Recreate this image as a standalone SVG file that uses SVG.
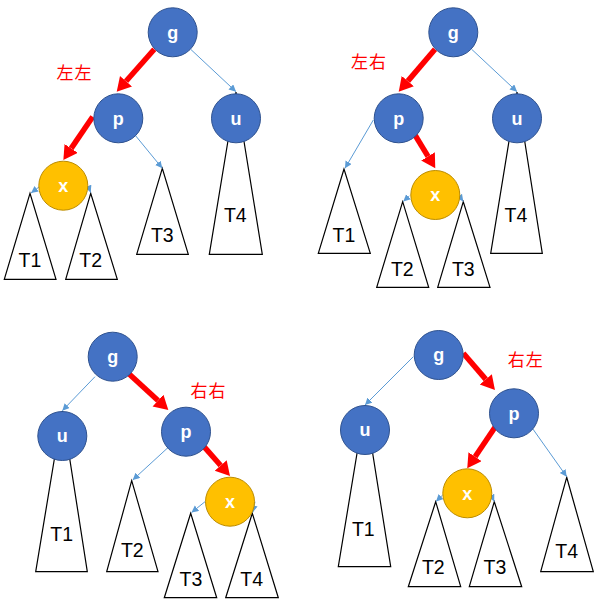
<svg xmlns="http://www.w3.org/2000/svg" width="599" height="604" viewBox="0 0 599 604">
<defs>
<marker id="bh" markerUnits="userSpaceOnUse" markerWidth="8" markerHeight="8" refX="7" refY="3.5" orient="auto"><path d="M0,0 L7,3.5 L0,7 z" fill="#5B9BD5"/></marker>
<marker id="rh" markerUnits="userSpaceOnUse" markerWidth="17" markerHeight="17" refX="0" refY="8" orient="auto"><path d="M0,0 L14,8 L0,16 z" fill="#FF0000"/></marker>
</defs>
<style>
.b{fill:#4472C4;stroke:#2F528F;stroke-width:1}
.o{fill:#FFC000;stroke:#BC8C00;stroke-width:1}
.nt{font-family:"Liberation Sans",Arial,sans-serif;font-size:18px;font-weight:bold;fill:#FFFFFF;text-anchor:middle}
.tr{fill:#FFFFFF;stroke:#000000;stroke-width:1.2}
.tt{font-family:"Liberation Sans",Arial,sans-serif;font-size:19.5px;fill:#000000;text-anchor:middle}
.lb{font-family:"Noto Sans CJK SC",sans-serif;font-size:17px;fill:#FF0000;text-anchor:middle;letter-spacing:1px}
.bl{fill:none;stroke:#5B9BD5;stroke-width:1;marker-end:url(#bh)}
.rl{fill:none;stroke:#FF0000;stroke-width:5.5;marker-end:url(#rh)}
</style>
<!-- Panel 1 -->
<g id="p1-T1"><polygon class="tr" points="30,193.3 4.3,279.3 56,279.3"/><text class="tt" x="30" y="267">T1</text></g>
<g id="p1-T2"><polygon class="tr" points="90.7,193.3 65.7,279.3 117.3,279.3"/><text class="tt" x="90.7" y="267">T2</text></g>
<g id="p1-T3"><polygon class="tr" points="162.3,168.3 136.7,254.3 188.3,254.3"/><text class="tt" x="162.3" y="242">T3</text></g>
<g id="p1-T4"><polygon class="tr" points="236,92 209.3,254.3 262.3,254.3"/><text class="tt" x="235.3" y="222">T4</text></g>
<!-- Panel 2 -->
<g id="p2-T1"><polygon class="tr" points="344,169 318.3,253.3 370.3,253.3"/><text class="tt" x="344" y="242">T1</text></g>
<g id="p2-T2"><polygon class="tr" points="402.7,201.7 376.7,287.3 428.7,287.3"/><text class="tt" x="402.3" y="275.5">T2</text></g>
<g id="p2-T3"><polygon class="tr" points="463.3,201.7 437.7,287.3 490,287.3"/><text class="tt" x="463.3" y="275.5">T3</text></g>
<g id="p2-T4"><polygon class="tr" points="517,92 490.7,253.3 542.3,253.3"/><text class="tt" x="516" y="222">T4</text></g>
<!-- Panel 3 -->
<g id="p3-T1"><polygon class="tr" points="62.3,411 35.7,571.7 87.3,571.7"/><text class="tt" x="61.7" y="540.5">T1</text></g>
<g id="p3-T2"><polygon class="tr" points="131.7,480.7 106.7,571.7 158,571.7"/><text class="tt" x="132.3" y="557">T2</text></g>
<g id="p3-T3"><polygon class="tr" points="190.7,513.3 164.3,597.7 216.7,597.7"/><text class="tt" x="191" y="585.5">T3</text></g>
<g id="p3-T4"><polygon class="tr" points="252.3,513.3 225.7,597.7 278.3,597.7"/><text class="tt" x="251.7" y="585.5">T4</text></g>
<!-- Panel 4 -->
<g id="p4-T1"><polygon class="tr" points="365,405 338.3,566.7 390.7,566.7"/><text class="tt" x="363.3" y="535.5">T1</text></g>
<g id="p4-T2"><polygon class="tr" points="435.7,501.7 408.3,586.7 460.7,586.7"/><text class="tt" x="433.3" y="574">T2</text></g>
<g id="p4-T3"><polygon class="tr" points="494.3,501.7 469.3,586.7 521.7,586.7"/><text class="tt" x="495" y="574">T3</text></g>
<g id="p4-T4"><polygon class="tr" points="566.7,477.3 540.7,571.7 593.3,571.7"/><text class="tt" x="566.7" y="557.5">T4</text></g>

<g id="connectors">
<path class="rl" d="M154.3,49.3 L126.0,81.2"/>
<path class="rl" d="M92.7,116.7 L71.2,148.4"/>
<path class="bl" d="M190.7,49.3 L236,91.7"/>
<path class="bl" d="M135,135 L162.3,168.3"/>
<path class="bl" d="M39,187 L31,193"/>
<path class="bl" d="M88.3,186.5 L90.7,192.5"/>

<path class="rl" d="M435,49.3 L407.8,81.1"/>
<path class="rl" d="M415,135 L428.0,156.4"/>
<path class="bl" d="M471.7,49.3 L517,91.7"/>
<path class="bl" d="M373.3,120 L345,168.3"/>
<path class="bl" d="M409.3,196 L403.3,201.5"/>
<path class="bl" d="M459.3,196 L463.3,201.5"/>

<path class="rl" d="M128.3,373.3 L158.0,400.5"/>
<path class="rl" d="M204,446.7 L220.7,465.5"/>
<path class="bl" d="M95,376.7 L62.3,410.7"/>
<path class="bl" d="M168.3,447.3 L132.7,480"/>
<path class="bl" d="M205,501.7 L191.5,512.5"/>
<path class="bl" d="M255,501.7 L252.7,512.5"/>

<path class="rl" d="M463.3,353.3 L485.8,379.4"/>
<path class="rl" d="M495,427.3 L475.1,456.7"/>
<path class="bl" d="M413.3,356.7 L365,405"/>
<path class="bl" d="M531.7,427.3 L566.7,476.7"/>
<path class="bl" d="M442.7,495 L436,501.5"/>
<path class="bl" d="M491,495 L494.3,501.5"/>
</g>

<g id="p1-g"><circle class="b" cx="172.7" cy="32.3" r="24.5"/><text class="nt" x="172.7" y="38.5">g</text></g>
<g id="p1-p"><circle class="b" cx="118.3" cy="118.3" r="24.5"/><text class="nt" x="118.3" y="124.5">p</text></g>
<g id="p1-u"><circle class="b" cx="236" cy="118.3" r="24.5"/><text class="nt" x="236" y="124.5">u</text></g>
<g id="p1-x"><circle class="o" cx="63.3" cy="185.7" r="24.5"/><text class="nt" x="63.3" y="191.9">x</text></g>
<text id="p1-label" class="lb" x="74.5" y="79">左左</text>

<g id="p2-g"><circle class="b" cx="453.3" cy="32.3" r="24.5"/><text class="nt" x="453.3" y="38.5">g</text></g>
<g id="p2-p"><circle class="b" cx="398.7" cy="118.3" r="24.5"/><text class="nt" x="398.7" y="124.5">p</text></g>
<g id="p2-u"><circle class="b" cx="517" cy="118.3" r="24.5"/><text class="nt" x="517" y="124.5">u</text></g>
<g id="p2-x"><circle class="o" cx="435.3" cy="195" r="24.5"/><text class="nt" x="435.3" y="201.2">x</text></g>
<text id="p2-label" class="lb" x="369" y="68">左右</text>

<g id="p3-g"><circle class="b" cx="112.7" cy="356.7" r="24.5"/><text class="nt" x="112.7" y="362.9">g</text></g>
<g id="p3-u"><circle class="b" cx="62.3" cy="436" r="24.5"/><text class="nt" x="62.3" y="442.2">u</text></g>
<g id="p3-p"><circle class="b" cx="186" cy="431.7" r="24.5"/><text class="nt" x="186" y="437.9">p</text></g>
<g id="p3-x"><circle class="o" cx="230" cy="501.7" r="24.5"/><text class="nt" x="230" y="507.9">x</text></g>
<text id="p3-label" class="lb" x="208.5" y="397">右右</text>

<g id="p4-g"><circle class="b" cx="438.7" cy="355" r="24.5"/><text class="nt" x="438.7" y="361.2">g</text></g>
<g id="p4-u"><circle class="b" cx="365" cy="430" r="24.5"/><text class="nt" x="365" y="436.2">u</text></g>
<g id="p4-p"><circle class="b" cx="514" cy="413.3" r="24.5"/><text class="nt" x="514" y="419.5">p</text></g>
<g id="p4-x"><circle class="o" cx="467.3" cy="493.3" r="24.5"/><text class="nt" x="467.3" y="499.5">x</text></g>
<text id="p4-label" class="lb" x="525.8" y="366">右左</text>
</svg>
